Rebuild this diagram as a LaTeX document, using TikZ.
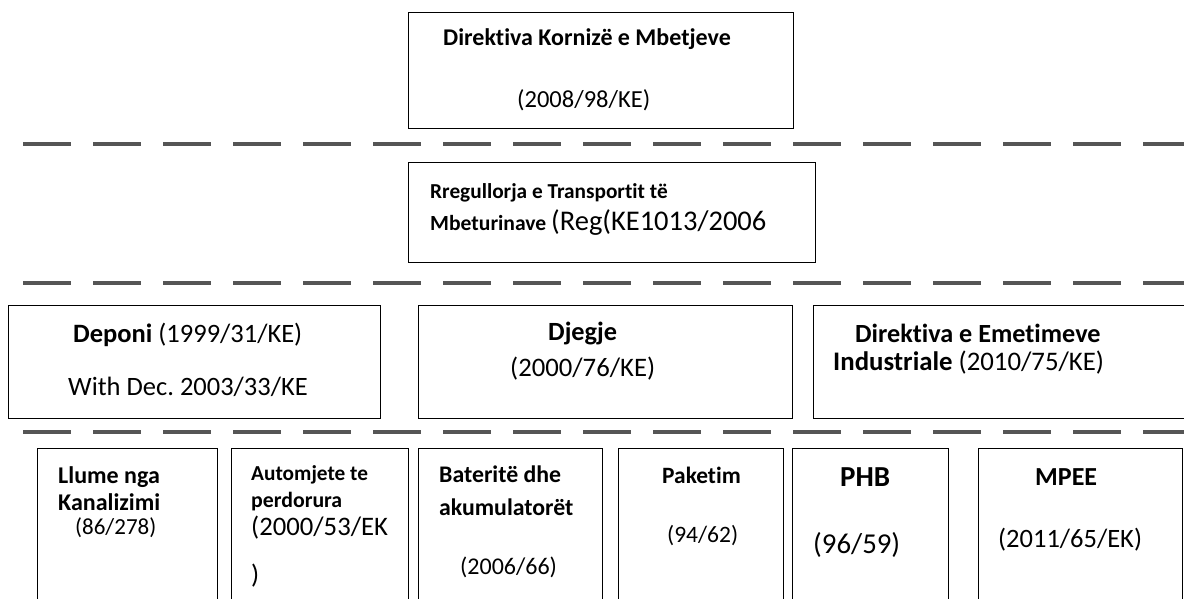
\documentclass[tikz,border=0pt]{standalone}
\usepackage{fontspec}
\setmainfont{Carlito}[Ligatures=NoCommon]
\usetikzlibrary{positioning}
\definecolor{dashcolour}{HTML}{555555}
\newcommand{\fsz}[1]{\fontsize{#1}{#1}\selectfont}
\frenchspacing

\begin{document}
\begin{tikzpicture}[x=1pt,y=-1pt,
  boxframe/.style={draw=black,line width=1.3pt,anchor=north west,inner sep=0,minimum width=#1},
  txt/.style={anchor=base west,inner sep=0},
  sepline/.style={dashcolour,line width=4pt,dash pattern=on 48pt off 22pt}]
\useasboundingbox (0,0) rectangle (1184,599);

% Separators
\coordinate (s1a) at (23,144); \coordinate (s1b) at (1184,144);
\coordinate (s2a) at (23,283); \coordinate (s2b) at (1184,283);
\coordinate (s3a) at (23,432); \coordinate (s3b) at (1184,432);
\draw[sepline] (s1a) -- (s1b);
\draw[sepline] (s2a) -- (s2b);
\draw[sepline] (s3a) -- (s3b);

% Direktiva Kornize e Mbetjeve
\node[boxframe=385pt,minimum height=116pt] (kornize) at (408,12) {};
\node[txt] (kornizeA) at (443,46) {\fsz{24}\bfseries Direktiva Kornizë e Mbetjeve};
\node[txt] (kornizeB) at (517,108) {\fsz{24.5}(2008/98/KE)};

% Rregullorja e Transportit
\node[boxframe=407pt,minimum height=100pt] (transport) at (408,162) {};
\node[txt] (transportA) at (430,198) {\fsz{21.3}\bfseries Rregullorja e Transportit të};
\node[txt] (transportB) at (430,230) {\fsz{21.6}\textbf{Mbeturinave} \fsz{28.5}(Reg(KE1013/2006};

% Deponi
\node[boxframe=372pt,minimum height=113pt] (deponi) at (8,305) {};
\node[txt] (deponiA) at (73,342) {\fsz{26.5}\textbf{Deponi} (1999/31/KE)};
\node[txt] (deponiB) at (68,395) {\fsz{26.5}With Dec. 2003/33/KE};

% Djegje
\node[boxframe=374pt,minimum height=113pt] (djegje) at (418,305) {};
\node[txt] (djegjeA) at (548,340) {\fsz{26.3}\bfseries Djegje};
\node[txt] (djegjeB) at (510,376) {\fsz{26.7}(2000/76/KE)};

% Direktiva e Emetimeve Industriale
\node[boxframe=382pt,minimum height=113pt] (emetime) at (813,305) {};
\node[txt] (emetimeA) at (855,342) {\fsz{26.2}\bfseries Direktiva e Emetimeve};
\node[txt] (emetimeB) at (833,370) {\fsz{26.8}\textbf{Industriale} (2010/75/KE)};

% Llume nga Kanalizimi
\node[boxframe=180pt,minimum height=170pt] (llume) at (37,448) {};
\node[txt] (llumeA) at (58,483) {\fsz{24}\bfseries Llume nga};
\node[txt] (llumeB) at (58,510) {\fsz{24}\bfseries Kanalizimi};
\node[txt] (llumeC) at (75,534) {\fsz{23}(86/278)};

% Automjete te perdorura
\node[boxframe=177pt,minimum height=170pt] (automjete) at (231,448) {};
\node[txt] (automjeteA) at (251,480) {\fsz{21.3}\bfseries Automjete te};
\node[txt] (automjeteB) at (251,507) {\fsz{21.8}\bfseries perdorura};
\node[txt] (automjeteC) at (251,535) {\fsz{26.7}(2000/53/EK};
\node[txt] (automjeteD) at (251,583) {\fsz{26.7})};

% Bateritë dhe akumulatorët
\node[boxframe=184pt,minimum height=170pt] (bateri) at (418,448) {};
\node[txt] (bateriA) at (439,482) {\fsz{23.8}\bfseries Bateritë dhe};
\node[txt] (bateriB) at (439,515) {\fsz{23.8}\bfseries akumulatorët};
\node[txt] (bateriC) at (460,574) {\fsz{24}(2006/66)};

% Paketim
\node[boxframe=165pt,minimum height=170pt] (paketim) at (618,448) {};
\node[txt] (paketimA) at (662,483) {\fsz{23.4}\bfseries Paketim};
\node[txt] (paketimB) at (667,542) {\fsz{23.5}(94/62)};

% PHB
\node[boxframe=156pt,minimum height=170pt] (phb) at (792,448) {};
\node[txt] (phbA) at (840,486) {\fsz{29}\bfseries PHB};
\node[txt] (phbB) at (813,553) {\fsz{28.8}(96/59)};

% MPEE
\node[boxframe=204pt,minimum height=170pt] (mpee) at (978,448) {};
\node[txt] (mpeeA) at (1035,485) {\fsz{26}\bfseries MPEE};
\node[txt] (mpeeB) at (998,547) {\fsz{26.5}(2011/65/EK)};

\end{tikzpicture}
\end{document}
